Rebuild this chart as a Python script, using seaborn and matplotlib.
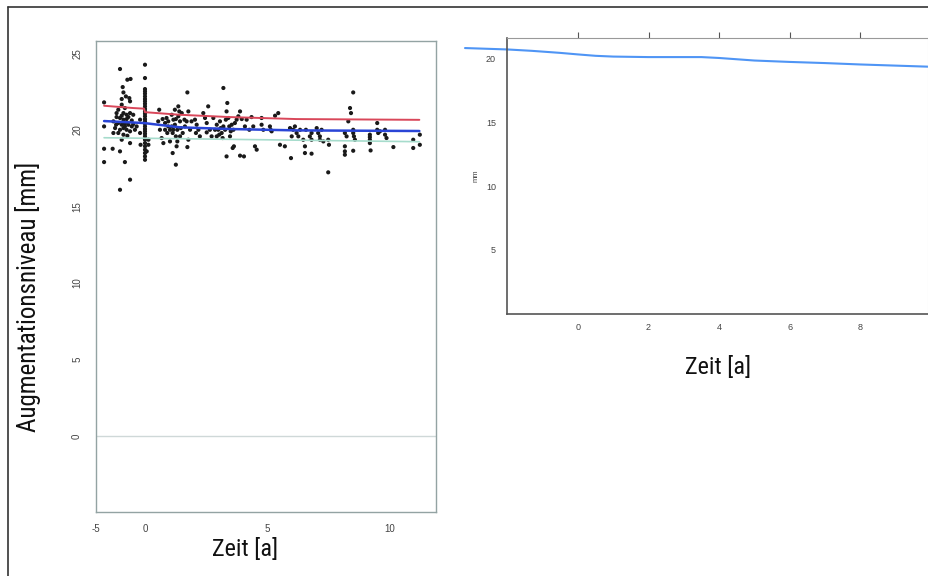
import matplotlib
matplotlib.use("Agg")
import matplotlib.pyplot as plt
import seaborn as sns
import pandas as pd
from matplotlib.lines import Line2D
from matplotlib import font_manager
from matplotlib.font_manager import FontProperties

# ---------------- data (left panel: individual measurements) ----------------
scatter_x = [
    -1.02, -0.72, -0.59, -0.91, -0.88, -0.78, -0.64, -0.61, -0.95, -0.82, -1.09, -0.88,
    -0.75, -0.61, -0.48, -1.16, -1.02, -0.88, -0.75, -0.54, -1.29, -1.09, -0.95, -0.82,
    -0.68, -0.48, -1.22, -1.02, -0.88, -0.75, -0.61, -1.09, -0.88, -0.72, -0.95, -0.61,
    -1.32, -1.02, -1.67, -1.67, -0.82, -0.61, -1.02, -1.67, -1.67, -0.20, -0.34, -0.41,
    -1.16, -0.95, -0.68, -0.82, -1.18, -0.54, -0.95, -1.29,
    0.0, 0.0, 0.0, 0.0, 0.0, 0.0, 0.0, 0.0, 0.0, 0.0, 0.0, 0.0, 0.0, 0.0, 0.0,
    0.0, 0.0, 0.0, 0.0, 0.0, 0.0, 0.0, 0.0, 0.0, 0.0, 0.0, 0.0, 0.0, 0.0,
    -0.20, -0.18, 0.14, 0.14, 0.07,
    0.58, 0.54, 0.61, 0.68, 0.75, 0.82, 0.88, 0.95, 1.02, 1.09, 1.13, 1.16, 1.22, 1.26,
    1.29, 1.32, 1.36, 1.40, 1.43, 1.46, 1.50, 1.54, 1.63, 1.73, 1.77, 1.77, 1.73, 1.26,
    1.13, 1.02, 0.91, 0.82, 0.72, 1.32, 1.43, 1.61, 1.70, 1.84, 1.90, 1.22, 1.36,
    1.09, 1.16, 0.95, 1.26,
    2.04, 2.11, 2.18, 2.08, 2.24, 2.38, 2.45, 2.52, 2.58, 2.65, 2.52, 2.79, 2.93, 2.99,
    3.06, 3.13, 3.20, 3.27, 3.33, 3.36, 3.40, 3.44, 3.47, 3.50, 3.54, 3.61, 3.58, 3.63,
    3.67, 3.74, 3.81, 3.88, 3.33, 3.88, 4.04, 2.72, 2.86, 3.17, 3.03, 2.93, 3.20, 3.30, 3.09,
    3.95, 4.08, 4.15, 4.26, 4.35, 4.42, 4.49, 4.56, 4.76, 4.76, 4.83, 5.10, 5.13, 5.17,
    5.31, 5.44, 5.51, 5.71, 5.92, 5.96, 5.99, 6.05, 6.12, 6.19, 6.26, 6.33, 6.46, 6.53,
    6.53, 6.57, 6.73, 6.80, 6.80, 6.80, 7.01, 7.07, 7.14, 7.21, 7.28, 7.48, 7.51, 7.48, 7.14,
    8.16, 8.16, 8.16, 8.16, 8.23, 8.30, 8.37, 8.41, 8.50, 8.50, 8.50, 8.53, 8.57, 8.50,
    9.18, 9.18, 9.18, 9.18, 9.21, 9.48, 9.48, 9.52, 9.59, 9.80, 9.80, 9.86, 10.14, 10.95,
    10.95, 11.22, 11.22,
]
scatter_y = [
    23.97, 23.27, 23.32, 22.79, 22.44, 22.18, 22.07, 21.86, 21.64, 21.42, 21.31, 21.09,
    20.98, 21.09, 20.98, 20.83, 20.77, 20.66, 20.70, 20.61, 20.55, 20.44, 20.33, 20.40,
    20.33, 20.37, 20.11, 20.00, 20.11, 20.00, 19.90, 19.79, 19.68, 19.61, 19.35, 19.13,
    18.76, 18.59, 18.76, 17.89, 17.89, 16.74, 16.08, 20.22, 21.79, 20.66, 20.22, 20.00,
    21.09, 20.92, 20.83, 20.22, 20.33, 20.22, 22.01, 19.79,
    24.25, 23.38, 22.66, 22.51, 22.36, 22.18, 22.01, 21.86, 21.70, 21.53, 21.36, 21.20,
    21.05, 20.88, 20.70, 20.55, 20.40, 20.22, 20.05, 19.90, 19.74, 19.57, 19.35, 19.13,
    18.92, 18.70, 18.48, 18.26, 18.04,
    19.79, 19.02, 19.35, 19.02, 18.59,
    21.31, 20.55, 20.00, 19.46, 19.13, 20.44, 20.77, 20.22, 20.00, 20.98, 19.79, 20.66,
    20.33, 19.57, 18.92, 20.00, 20.88, 21.20, 20.55, 20.11, 21.09, 19.79, 20.22, 22.44,
    21.20, 19.35, 18.87, 17.72, 18.48, 19.24, 19.79, 20.00, 20.70, 19.24, 19.57, 20.66,
    20.55, 20.00, 20.55, 21.31, 21.53, 20.22, 20.00, 20.55, 20.70,
    20.66, 20.33, 20.00, 19.79, 19.57, 21.09, 20.77, 20.44, 21.53, 20.00, 19.83, 20.77,
    20.33, 20.00, 20.55, 19.79, 22.73, 20.00, 21.20, 21.75, 20.77, 20.22, 19.57, 19.90,
    20.33, 20.00, 18.81, 18.92, 20.44, 20.66, 20.88, 21.20, 18.26, 18.31, 18.26, 19.57,
    20.00, 19.46, 19.68, 19.57, 20.22, 20.66, 20.11,
    20.70, 20.22, 20.66, 20.00, 20.83, 20.22, 18.92, 18.70, 20.77, 20.33, 20.00, 20.22,
    20.00, 19.90, 20.92, 21.09, 19.02, 18.92, 20.11, 18.15, 19.57, 20.00, 20.22, 19.79,
    19.57, 20.00, 19.35, 18.92, 18.48, 20.00, 19.57, 19.79, 19.35, 18.44, 20.11, 19.79,
    19.57, 20.00, 19.24, 19.35, 19.02, 17.22, 19.35,
    19.79, 18.92, 18.59, 18.37, 19.57, 20.55, 21.42, 21.09, 22.44, 20.00, 19.79, 19.57,
    19.35, 18.63, 19.68, 19.52, 19.35, 19.13, 18.65, 20.44, 20.00, 19.79, 19.90, 20.00,
    19.68, 19.46, 18.87, 19.35, 18.81, 19.68, 19.02,
]

# fitted curves of the left panel
red_x = [-1.67, -0.48, -0.04, 0.0, 1.43, 3.47, 6.19, 11.2]
red_y = [21.57, 21.42, 21.38, 21.15, 20.98, 20.83, 20.70, 20.65]
blue_x = [-1.67, -0.04, 1.43, 3.47, 6.19, 11.2]
blue_y = [20.57, 20.44, 20.16, 20.05, 19.96, 19.92]
teal_x = [-1.67, 11.2]
teal_y = [19.48, 19.22]

# right panel: smoothed mean curve
curve_x = [-3.2, -2.0, -1.3, -0.5, 0.0, 0.5, 1.0, 2.0, 3.5, 4.0, 5.0, 6.0, 7.0, 8.0, 9.0, 10.0]
curve_y = [20.86, 20.75, 20.64, 20.48, 20.36, 20.25, 20.19, 20.15, 20.15, 20.08, 19.88,
           19.77, 19.68, 19.57, 19.48, 19.39]

left_xticks = [-2, 0, 5, 10]
left_xticklabels = ["-5", "0", "5", "10"]
left_yticks = [0, 5, 10, 15, 20, 25]
right_xticks = [0, 2, 4, 6, 8]
right_yticks = [5, 10, 15, 20]

# ---------------- style ----------------
sns.set_style("white")
plt.rcParams["font.family"] = ["Liberation Sans", "DejaVu Sans"]


def find_condensed():
    prefs = ["Liberation Sans Narrow", "Roboto Condensed", "Open Sans Condensed",
             "Noto Sans Condensed", "DejaVu Sans Condensed"]
    fl = font_manager.fontManager.ttflist
    for p in prefs:
        for f in fl:
            if f.name == p and f.weight in (400, "normal", "regular") and f.style == "normal":
                return f.fname
    for f in fl:
        st = str(f.stretch)
        if (("condensed" in st or "Narrow" in f.fname or "Condensed" in f.fname)
                and f.style == "normal" and "Bold" not in f.fname
                and "Oblique" not in f.fname and "Italic" not in f.fname
                and "Mono" not in f.fname and "Serif" not in f.fname):
            return f.fname
    return None


cfile = find_condensed()
if cfile:
    ylab_fp = FontProperties(fname=cfile, size=18)
    xlab_fp = FontProperties(fname=cfile, size=17.5)
else:
    ylab_fp = FontProperties(family="Liberation Sans", size=16)
    xlab_fp = FontProperties(family="Liberation Sans", size=16)

W, H = 929, 576
fig = plt.figure(figsize=(W / 100, H / 100), dpi=100)


def fx(px):
    return px / W


def fy(py):
    return 1 - py / H


# outer frame (top and left edges visible)
fig.add_artist(Line2D([fx(8), 1.0], [fy(7), fy(7)], color="#333333", lw=1.2))
fig.add_artist(Line2D([fx(8), fx(8)], [fy(7), 0.0], color="#333333", lw=1.2))

# ---------------- left panel ----------------
axL = fig.add_axes([fx(96), fy(512), fx(436) - fx(96), fy(41) - fy(512)])
df_pts = pd.DataFrame({"Zeit": scatter_x, "Niveau": scatter_y})
axL.axhline(0, color="#cfd8d8", lw=1.0, zorder=1)
sns.scatterplot(data=df_pts, x="Zeit", y="Niveau", ax=axL, s=9, color="#1a1a1a",
                edgecolor="none", zorder=3, legend=False)
sns.lineplot(x=teal_x, y=teal_y, ax=axL, color="#a6dccc", lw=1.2, zorder=4)
sns.lineplot(x=red_x, y=red_y, ax=axL, color="#d9475a", lw=1.4, zorder=4, sort=False)
sns.lineplot(x=blue_x, y=blue_y, ax=axL, color="#2a45d6", lw=1.8, zorder=5)
axL.set_xlim(-2.0, 11.88)
axL.set_ylim(-4.97, 25.8)
axL.set_xticks(left_xticks)
axL.set_xticklabels(left_xticklabels)
axL.set_yticks(left_yticks)
axL.set_yticklabels([str(v) for v in left_yticks], rotation=90, va="center")
axL.tick_params(axis="both", direction="out", length=5, width=0.8, color="#555555",
                labelsize=7, labelcolor="#444444")
axL.tick_params(axis="y", pad=5)
axL.tick_params(axis="x", pad=4)
for sp in axL.spines.values():
    sp.set_color("#93a3a3")
    sp.set_linewidth(1.0)
axL.set_xlabel("Zeit [a]", fontproperties=xlab_fp, color="#111111")
axL.xaxis.set_label_coords(0.438, -0.055, transform=axL.transAxes)
axL.xaxis.label.set_va("top")
axL.set_ylabel("Augmentationsniveau [mm]", fontproperties=ylab_fp, color="#111111")
axL.yaxis.set_label_coords(fx(28), fy(297), transform=fig.transFigure)
axL.yaxis.label.set_va("center")

# ---------------- right panel ----------------
axR = fig.add_axes([fx(507), fy(313.5), fx(928) - fx(507), fy(38) - fy(313.5)])
sns.lineplot(x=curve_x, y=curve_y, ax=axR, color="#4f95f5", lw=1.5, clip_on=False)
axR.set_xlim(-2.01, 9.92)
axR.set_ylim(0, 21.65)
axR.set_xticks(right_xticks)
axR.set_xticklabels([str(v) for v in right_xticks])
axR.set_yticks(right_yticks)
axR.set_yticklabels([str(v) for v in right_yticks])
axR.tick_params(axis="both", direction="out", length=4, width=0.8, color="#555555",
                labelsize=6.5, labelcolor="#444444", pad=4)
axR.tick_params(axis="x", top=True, labeltop=False, pad=3)
axR.spines["left"].set_color("#555555")
axR.spines["bottom"].set_color("#555555")
axR.spines["left"].set_linewidth(1.2)
axR.spines["bottom"].set_linewidth(1.2)
axR.spines["top"].set_color("#999999")
axR.spines["right"].set_color("#dddddd")
axR.set_xlabel("Zeit [a]", fontproperties=xlab_fp, color="#111111")
axR.xaxis.set_label_coords(fx(718), fy(367), transform=fig.transFigure)
axR.xaxis.label.set_va("center")
axR.set_ylabel("mm", fontsize=5.5, color="#444444")
axR.yaxis.set_label_coords(fx(476), fy(176), transform=fig.transFigure)
axR.yaxis.label.set_va("center")

fig.savefig("out.png", dpi=100)
